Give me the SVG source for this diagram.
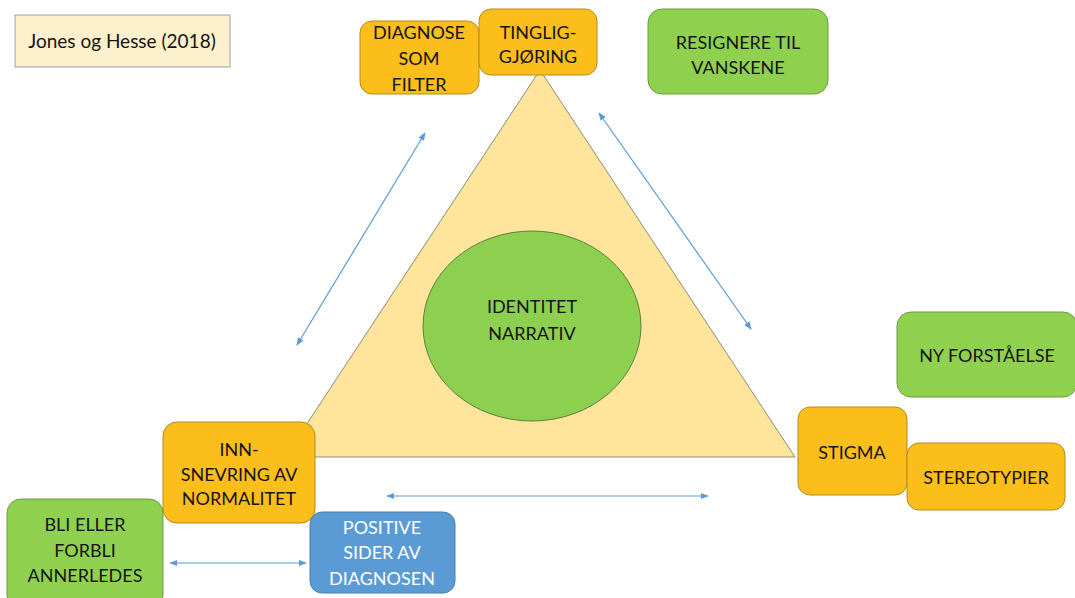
<svg xmlns="http://www.w3.org/2000/svg" width="1075" height="598" viewBox="0 0 1075 598">
<defs>
<style>
text{font-family:Lato,"Open Sans","Liberation Sans",sans-serif;font-size:18px;fill:#141414;text-anchor:middle}
.org{fill:#fbbe1b;stroke:#b58a1e;stroke-width:1}
.grn{fill:#8fd14f;stroke:#6f9a45;stroke-width:1}
.blu{fill:#5b9bd5;stroke:#4a7fb0;stroke-width:1}
.wt{fill:#ffffff}
.arr{stroke:#5b9bd5;stroke-width:1.2;fill:none;marker-start:url(#ah);marker-end:url(#ah)}
</style>
<marker id="ah" viewBox="0 0 10 10" refX="9" refY="5" markerWidth="8" markerHeight="8" orient="auto-start-reverse" markerUnits="userSpaceOnUse">
<path d="M0,1 L10,5 L0,9 z" fill="#5b9bd5"/>
</marker>
</defs>
<rect width="1075" height="598" fill="#ffffff"/>
<g id="title">
<rect x="15" y="15" width="215" height="52" fill="#fdf0cc" stroke="#9aa3ad" stroke-width="1"/>
<text x="122" y="48" style="font-size:19px">Jones og Hesse (2018)</text>
</g>
<g id="triangle">
<polygon points="540,70 285,457 795,457" fill="#fee59b" stroke="#8e8a72" stroke-width="1"/>
</g>
<g id="identitet">
<ellipse cx="532" cy="326" rx="109" ry="95" fill="#8dcf4e" stroke="#5e7f40" stroke-width="1"/>
<text x="532" y="313">IDENTITET</text>
<text x="532" y="340">NARRATIV</text>
</g>
<g id="connectors">
<line class="arr" x1="297" y1="345" x2="425" y2="133"/>
<line class="arr" x1="599" y1="113" x2="751" y2="329"/>
<line class="arr" x1="387" y1="496" x2="708" y2="496"/>
<line class="arr" x1="170" y1="563" x2="306" y2="563"/>
</g>
<g id="diagnose">
<rect class="org" x="360" y="21" width="119" height="73" rx="12"/>
<text x="419" y="39">DIAGNOSE</text>
<text x="419" y="65">SOM</text>
<text x="419" y="91">FILTER</text>
</g>
<g id="tinglig">
<rect class="org" x="479" y="9" width="118" height="66" rx="12"/>
<text x="538" y="39">TINGLIG-</text>
<text x="538" y="63">GJØRING</text>
</g>
<g id="resignere">
<rect class="grn" x="648" y="9" width="180" height="85" rx="14"/>
<text x="738" y="49">RESIGNERE TIL</text>
<text x="738" y="74">VANSKENE</text>
</g>
<g id="ny">
<rect class="grn" x="897" y="312" width="180" height="85" rx="14"/>
<text x="987" y="362">NY FORSTÅELSE</text>
</g>
<g id="stigma">
<rect class="org" x="798" y="407" width="109" height="88" rx="12"/>
<text x="852" y="459">STIGMA</text>
</g>
<g id="stereotypier">
<rect class="org" x="907" y="443" width="158" height="67" rx="12"/>
<text x="986" y="484">STEREOTYPIER</text>
</g>
<g id="innsnevring">
<rect class="org" x="163" y="422" width="152" height="101" rx="14"/>
<text x="239" y="456">INN-</text>
<text x="239" y="481">SNEVRING AV</text>
<text x="239" y="505">NORMALITET</text>
</g>
<g id="bli">
<rect class="grn" x="7" y="499" width="156" height="110" rx="14"/>
<text x="85" y="531">BLI ELLER</text>
<text x="85" y="557">FORBLI</text>
<text x="85" y="582">ANNERLEDES</text>
</g>
<g id="positive">
<rect class="blu" x="310" y="512" width="145" height="81" rx="12"/>
<text class="wt" x="382" y="534">POSITIVE</text>
<text class="wt" x="382" y="559">SIDER AV</text>
<text class="wt" x="382" y="585">DIAGNOSEN</text>
</g>
</svg>
